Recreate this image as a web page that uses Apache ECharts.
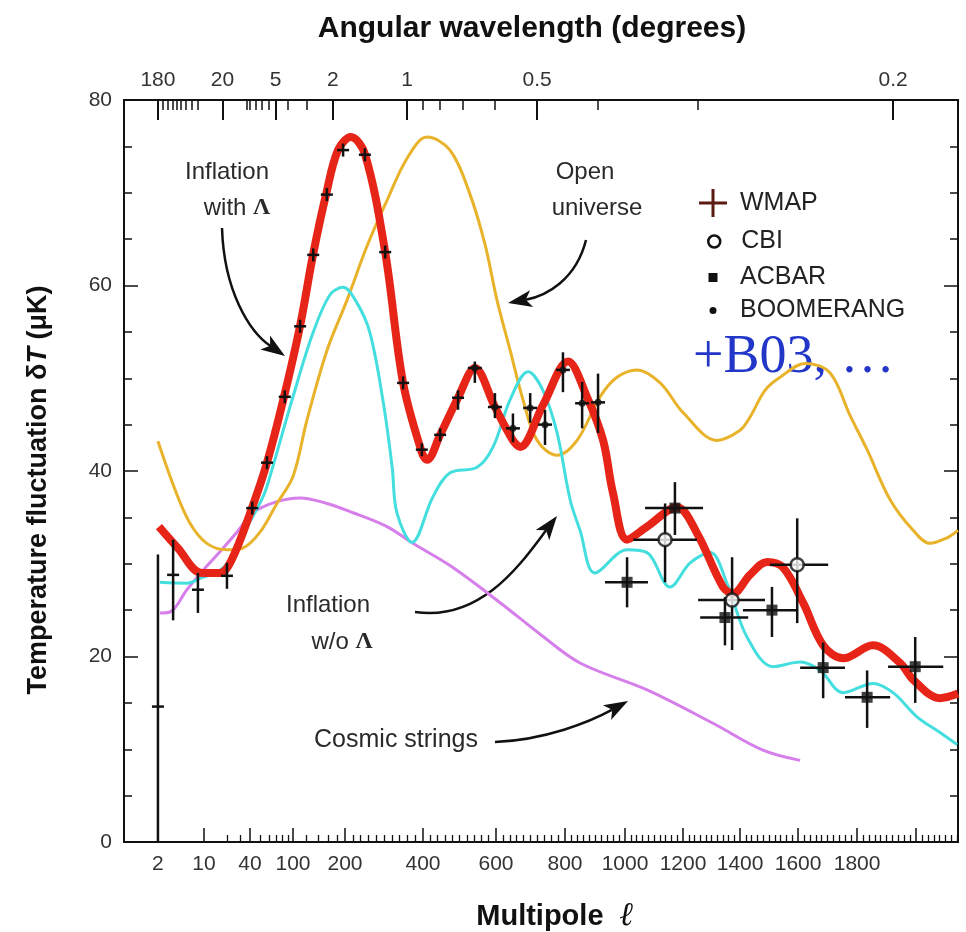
<!DOCTYPE html>
<html><head><meta charset="utf-8">
<script src="https://cdn.jsdelivr.net/npm/echarts@6/dist/echarts.min.js"></script>
<style>html,body{margin:0;padding:0;background:#fff}#c{width:966px;height:932px}</style>
</head><body><div id="c"></div><script>
// ---------- multipole axis scale (log-like at low l, linear at high l) ----------
const scaleL = [2,10,40,100,200,400,600,800,1000,1200,1400,1600,1800];
const scaleU = [34,80,126,169,221,299,372,441,501,559,616,674,733];
function toU(l){
  const n = scaleL.length;
  if (l <= scaleL[0]) return scaleU[0] + (scaleU[1]-scaleU[0]) * Math.log(l/scaleL[0]) / Math.log(scaleL[1]/scaleL[0]);
  for (let i = 0; i < n-1; i++){
    const a = scaleL[i], b = scaleL[i+1];
    if (l <= b){
      const t = a < 200 ? Math.log(l/a)/Math.log(b/a) : (l-a)/(b-a);
      return scaleU[i] + t*(scaleU[i+1]-scaleU[i]);
    }
  }
  const a = scaleL[n-2], b = scaleL[n-1];
  return scaleU[n-1] + (l-b)*(scaleU[n-1]-scaleU[n-2])/(b-a);
}
const ellRange = [0.61, 2142];

// ---------- tick labels ----------
const multipoleLabels = [2,10,40,100,200,400,600,800,1000,1200,1400,1600,1800];
const multipoleMajorTicks = [10,40,100,200,400,600,800,1000,1200,1400,1600,1800,2000];
const angularLabels = ['180','20','5','2','1','0.5','0.2'];
const angularLabelL = [2,17.5,69,170,359,719,1922];
const angularMinorL = [2.4,2.8,3.3,3.8,4.5,5.2,6.5,8,36,40,45,51,60,90,120,400,447,510,597,910,1253];
const tempTicks = [0,20,40,60,80];

// ---------- theory curves (l, deltaT in muK) ----------
const withLambdaL = [2.07,4.0,9.3,16.2,23,41.7,57.5,82.6,109.8,130.6,155.3,182.2,215,251,303,349,397,411,447,496,542,597,649,670,736,810,873,927,960,1007,1076,1179,1249,1340,1375,1434,1493,1548,1617,1685,1753,1854,1946,1990,2081,2142];
const withLambdaT = [34.0,31.7,29.0,29.0,30.4,36.0,40.9,48.0,55.6,63.3,69.8,74.6,76.0,74.2,63.6,49.5,42.0,41.2,43.9,47.9,51.1,46.9,43.3,42.6,47.1,51.8,48.0,43.3,37.6,32.6,34.0,36.1,33.3,27.5,26.8,28.8,30.2,29.6,25.8,21.2,19.8,21.2,19.3,17.5,15.5,16.0];

const noLambdaL = [2.14,5.5,9.3,16.2,25,36.5,52.8,61.2,100,130.6,163.8,194.8,231,264,297,321,333,372,427,474,548,592,641,693,736,777,817,850,900,1007,1076,1155,1225,1295,1354,1424,1514,1607,1675,1753,1854,1922,2003,2081,2139];
const noLambdaT = [28.0,27.9,28.5,29.3,31.0,33.9,37.2,39.4,48.0,54.9,59.0,59.8,58.1,54.9,47.7,40.4,35.5,32.3,37.2,39.8,40.4,42.6,47.7,50.7,48.7,44.1,36.9,33.6,29.0,31.5,31.2,27.5,30.1,31.2,27.9,22.1,18.9,19.4,18.5,16.1,17.1,16.1,13.5,11.8,10.5];

const openL = [2.0,3.63,6.1,10.9,20.0,32.4,49.5,71,100,120.5,157.3,205,256,308,359,411,474,529,570,603,641,678,719,777,840,917,973,1041,1121,1200,1319,1400,1434,1486,1538,1624,1708,1776,1834,1912,1990,2047,2105,2142];
const openT = [43.2,38.0,34.4,32.2,31.5,31.7,33.4,36.5,39.4,45.5,53.0,58.4,64.2,69.2,73.7,76.0,74.6,69.8,64.4,58.4,53.0,47.7,43.3,41.7,43.3,48.0,50.1,50.9,49.5,46.3,43.3,44.4,45.8,48.7,50.1,51.6,50.6,46.0,42.3,36.9,33.6,32.2,32.8,33.6];

const stringsL = [2.14,3.04,5.5,9.7,16.2,27.0,42.6,71,109.8,157.3,220.5,307.7,374,474,612,728,850,1076,1305,1479,1607];
const stringsT = [24.7,24.8,27.2,29.3,31.3,33.4,35.5,36.7,37.1,36.5,35.5,34.0,32.2,29.8,25.8,22.4,19.3,16.4,12.8,9.9,8.8];

// ---------- measurements ----------
const wmapL  = [2,3.4,8.1,20,42,57.5,84,110,131,157,195,251,303,349,397,447,496];
const wmapT  = [14.6,28.8,27.2,28.7,36.0,40.9,48.0,55.6,63.3,69.8,74.6,74.1,63.6,49.5,42.3,43.9,47.9];
const wmapLo = [0,23.9,24.7,27.3,35.3,40.2,47.3,54.9,62.6,69.1,73.9,73.4,62.9,48.8,41.6,43.2,46.6];
const wmapHi = [31.0,32.6,29.0,30.1,36.7,41.6,48.7,56.3,64.0,70.5,75.3,74.8,64.3,50.2,43.0,44.6,48.7];

const boomL  = [542,597,649,699,742,794,857,910];
const boomT  = [51.1,46.9,44.6,46.8,45.0,50.9,47.3,47.4];
const boomLo = [49.5,45.7,43.1,45.2,42.8,48.5,44.6,44.1];
const boomHi = [51.8,48.4,46.2,48.4,46.6,52.8,49.6,50.5];

const acbarL    = [1007,1172,1347,1510,1685,1834,1997];
const acbarT    = [28.0,36.0,24.2,25.0,18.8,15.6,18.9];
const acbarLo   = [25.3,33.1,21.2,22.1,15.5,12.3,15.0];
const acbarHi   = [30.7,38.8,26.4,27.5,21.5,18.5,22.1];
const acbarLmin = [933,1069,1260,1410,1607,1759,1905];
const acbarLmax = [1079,1270,1428,1600,1759,1912,2092];

const cbiL    = [1138,1372,1597];
const cbiT    = [32.6,26.1,29.9];
const cbiLo   = [28.0,20.7,23.6];
const cbiHi   = [36.5,30.7,34.9];
const cbiLmin = [1028,1253,1503];
const cbiLmax = [1249,1486,1702];

// ---------- build ----------
const FONT = '"Liberation Sans", Arial, Helvetica, sans-serif';
const SERIF = '"Liberation Serif", "Times New Roman", serif';
const INK = '#111';
const uMin = toU(ellRange[0]), uMax = toU(ellRange[1]);

function labelAt(us, labels){
  return v => { let best = -1, bd = 1e9; us.forEach((u,i)=>{ const d = Math.abs(u-v); if (d < bd){ bd = d; best = i; } }); return bd < 0.5 ? String(labels[best]) : ''; };
}
const bottomLabelU = multipoleLabels.map(toU);
const topLabelU = angularLabelL.map(toU);
const minorBottom = [];
for (let l = 20; l < 100; l += 10) if (l !== 40) minorBottom.push(l);
for (let l = 120; l <= 2140; l += 20) if (l % 200 !== 0) minorBottom.push(l);

function pts(L, T){ return L.map((l,i)=>[toU(l), T[i]]); }
function bars(L, T, lo, hi, lmin, lmax){
  return L.map((l,i)=> lmin ? [toU(l), T[i], lo[i], hi[i], toU(lmin[i]), toU(lmax[i])] : [toU(l), T[i], lo[i], hi[i]]);
}
function barRenderer(armPx){
  return function(params, api){
    const x = api.value(0), y = api.value(1);
    const c = api.coord([x, y]);
    const top = api.coord([x, api.value(3)]);
    const bot = api.coord([x, api.value(2)]);
    let xl, xr;
    if (armPx){ xl = c[0]-armPx; xr = c[0]+armPx; }
    else { xl = api.coord([api.value(4), y])[0]; xr = api.coord([api.value(5), y])[0]; }
    const st = {stroke: INK, lineWidth: 2.5};
    return {type:'group', children:[
      {type:'line', shape:{x1:c[0], y1:top[1], x2:c[0], y2:bot[1]}, style:st},
      {type:'line', shape:{x1:xl, y1:c[1], x2:xr, y2:c[1]}, style:st}
    ]};
  };
}
function arrowEls(p0, c1, c2, tip){
  const dx = tip[0]-c2[0], dy = tip[1]-c2[1], len = Math.hypot(dx, dy);
  const ux = dx/len, uy = dy/len, hl = 24, hw = 8.5;
  const bx = tip[0]-ux*hl, by = tip[1]-uy*hl;
  return [
    {type:'bezierCurve', silent:true, shape:{x1:p0[0], y1:p0[1], cpx1:c1[0], cpy1:c1[1], cpx2:c2[0], cpy2:c2[1], x2:bx+ux*6, y2:by+uy*6}, style:{stroke:INK, lineWidth:2.5, fill:'none'}},
    {type:'polygon', silent:true, shape:{points:[[tip[0],tip[1]], [bx-uy*hw, by+ux*hw], [bx+ux*6, by+uy*6], [bx+uy*hw, by-ux*hw]]}, style:{fill:INK}}
  ];
}
function txt(x, y, text, extra){
  return Object.assign({type:'text', x:x, y:y, silent:true, style:Object.assign({text:text, fontSize:24, fontFamily:FONT, fill:'#2a2a2a', align:'center', verticalAlign:'middle', textAlign:'center', textVerticalAlign:'middle'}, extra || {})});
}
const lamRich = {L:{fontFamily:SERIF, fontWeight:'bold', fontSize:24, fill:'#2a2a2a', color:'#2a2a2a'}};

const baseX = {type:'value', min:uMin, max:uMax, splitLine:{show:false}, axisLine:{show:true, onZero:false, lineStyle:{color:INK, width:2}}};
const tickLbl = {fontSize:21, color:'#333', fontFamily:FONT};
const baseY = {type:'value', min:0, max:80, interval:20, splitLine:{show:false}, minorSplitLine:{show:false},
  axisLine:{show:true, onZero:false, lineStyle:{color:INK, width:2}},
  axisTick:{show:true, inside:true, length:14, lineStyle:{color:INK, width:1.5}},
  minorTick:{show:true, splitNumber:4, length:8, lineStyle:{color:INK, width:1.5}}};

const plusPath = 'path://M12.5,0h3v12.5h12.5v3h-12.5v12.5h-3v-12.5h-12.5v-3h12.5z';
const squarePath = 'path://M0,0h10v10h-10z';
const legendBase = {orient:'vertical', padding:0, itemWidth:44, selectedMode:false,
  textStyle:{fontSize:25, color:'#222', fontFamily:FONT}};
const legendIconCenter = 713;

const option = {
  animation:false,
  backgroundColor:'#fff',
  textStyle:{fontFamily:FONT},
  grid:{left:124, right:8, top:100, bottom:90, containLabel:false, outerBoundsMode:'none'},
  xAxis:[
    Object.assign({}, baseX, {position:'bottom',
      axisTick:{show:true, inside:true, length:14, lineStyle:{color:INK, width:1.5}, customValues:multipoleMajorTicks.map(toU)},
      axisLabel:Object.assign({show:true, customValues:bottomLabelU, formatter:labelAt(bottomLabelU, multipoleLabels), margin:12}, tickLbl),
      name:'Multipole  {l|\u2113}', nameLocation:'middle', nameGap:58,
      nameTextStyle:{fontSize:29, fontWeight:'bold', color:INK, fontFamily:FONT, padding:[0,0,0,28],
        rich:{l:{fontFamily:SERIF, fontStyle:'italic', fontWeight:'bold', fontSize:33, color:INK}}}}),
    Object.assign({}, baseX, {position:'bottom', axisLine:{show:false, onZero:false},
      axisTick:{show:true, inside:true, length:7, lineStyle:{color:INK, width:1.3}, customValues:minorBottom.map(toU)},
      axisLabel:{show:false}}),
    Object.assign({}, baseX, {position:'top',
      axisTick:{show:true, inside:true, length:20, lineStyle:{color:INK, width:2}, customValues:topLabelU},
      axisLabel:Object.assign({show:true, customValues:topLabelU, formatter:labelAt(topLabelU, angularLabels), margin:9}, tickLbl),
      name:'Angular wavelength (degrees)', nameLocation:'middle', nameGap:56,
      nameTextStyle:{fontSize:30, fontWeight:'bold', color:INK, fontFamily:FONT, padding:[0,18,0,0]}}),
    Object.assign({}, baseX, {position:'top', axisLine:{show:false, onZero:false},
      axisTick:{show:true, inside:true, length:10, lineStyle:{color:INK, width:1.5}, customValues:angularMinorL.map(toU)},
      axisLabel:{show:false}})
  ],
  yAxis:[
    Object.assign({}, baseY, {position:'left',
      axisLabel:Object.assign({show:true, margin:12, customValues:tempTicks}, tickLbl),
      name:'Temperature fluctuation \u03B4{it|T} (\u03BCK)', nameLocation:'middle', nameGap:72, nameRotate:90,
      nameTextStyle:{fontSize:27, fontWeight:'bold', color:INK, fontFamily:FONT, padding:[0,38,0,0],
        rich:{it:{fontStyle:'italic', fontWeight:'bold', fontSize:27, fontFamily:FONT, color:INK}}}}),
    Object.assign({}, baseY, {position:'right', axisLabel:{show:false}})
  ],
  legend:[
    Object.assign({}, legendBase, {left:legendIconCenter-14, top:189, itemHeight:28, data:[{name:'WMAP', icon:plusPath, itemStyle:{color:'#5c1a12', borderWidth:0}}]}),
    Object.assign({}, legendBase, {left:legendIconCenter-6, top:229, itemHeight:12, data:[{name:'CBI', icon:'circle', itemStyle:{color:'#fff', borderColor:INK, borderWidth:2.5}}]}),
    Object.assign({}, legendBase, {left:legendIconCenter-4.5, top:265, itemHeight:9, data:[{name:'ACBAR', icon:squarePath, itemStyle:{color:INK, borderWidth:0}}]}),
    Object.assign({}, legendBase, {left:legendIconCenter-3.5, top:298, itemHeight:7, data:[{name:'BOOMERANG', icon:'circle', itemStyle:{color:INK, borderWidth:0}}]})
  ],
  series:[
    {type:'line', name:'Cosmic strings', data:pts(stringsL, stringsT), smooth:0.35, symbol:'none', silent:true, lineStyle:{color:'#d67fea', width:3}, z:2},
    {type:'line', name:'Open universe', data:pts(openL, openT), smooth:0.35, symbol:'none', silent:true, lineStyle:{color:'#e8b32a', width:3}, z:2},
    {type:'line', name:'Inflation w/o \u039B', data:pts(noLambdaL, noLambdaT), smooth:0.35, symbol:'none', silent:true, lineStyle:{color:'#45dede', width:3}, z:3},
    {type:'line', name:'Inflation with \u039B', data:pts(withLambdaL, withLambdaT), smooth:0.35, symbol:'none', silent:true, lineStyle:{color:'#e62518', width:8}, z:4},
    {type:'custom', name:'WMAP', data:bars(wmapL, wmapT, wmapLo, wmapHi), renderItem:barRenderer(6), silent:true, z:6, itemStyle:{color:'#5c1a12'}},
    {type:'custom', name:'BOOMERANG', data:bars(boomL, boomT, boomLo, boomHi), renderItem:barRenderer(7), silent:true, z:6, itemStyle:{color:INK}},
    {type:'custom', name:'ACBAR', data:bars(acbarL, acbarT, acbarLo, acbarHi, acbarLmin, acbarLmax), renderItem:barRenderer(0), silent:true, z:6, itemStyle:{color:INK}},
    {type:'custom', name:'CBI', data:bars(cbiL, cbiT, cbiLo, cbiHi, cbiLmin, cbiLmax), renderItem:barRenderer(0), silent:true, z:6, itemStyle:{color:INK}},
    {type:'scatter', name:'BOOMERANG', data:pts(boomL, boomT), symbol:'circle', symbolSize:7, silent:true, z:7, itemStyle:{color:INK}},
    {type:'scatter', name:'ACBAR', data:pts(acbarL, acbarT), symbol:'rect', symbolSize:11, silent:true, z:7, itemStyle:{color:INK}},
    {type:'scatter', name:'CBI', data:pts(cbiL, cbiT), symbol:'circle', symbolSize:13, silent:true, z:8, itemStyle:{color:'#fff', borderColor:INK, borderWidth:2.5}}
  ],
  graphic:[].concat(
    [txt(227, 172, 'Inflation'),
     txt(237, 208, 'with {L|\u039B}', {rich:lamRich}),
     txt(585, 172, 'Open'),
     txt(597, 208, 'universe'),
     txt(328, 605, 'Inflation'),
     txt(342, 642, 'w/o {L|\u039B}', {rich:lamRich}),
     txt(396, 740, 'Cosmic strings', {fontSize:25}),
     txt(693, 358, '+B03, \u2026', {fontSize:54, fontFamily:SERIF, fill:'#2236c8', align:'left', textAlign:'left'})],
    arrowEls([222,228],[224,292],[250,332],[285,356]),
    arrowEls([586,240],[576,280],[546,296],[508,303]),
    arrowEls([415,612],[482,622],[522,562],[557,516]),
    arrowEls([495,742],[545,740],[590,722],[628,701])
  )
};
const chart = echarts.init(document.getElementById('c'), null, {renderer:'canvas', width:966, height:932});
chart.setOption(option);
</script></body></html>
